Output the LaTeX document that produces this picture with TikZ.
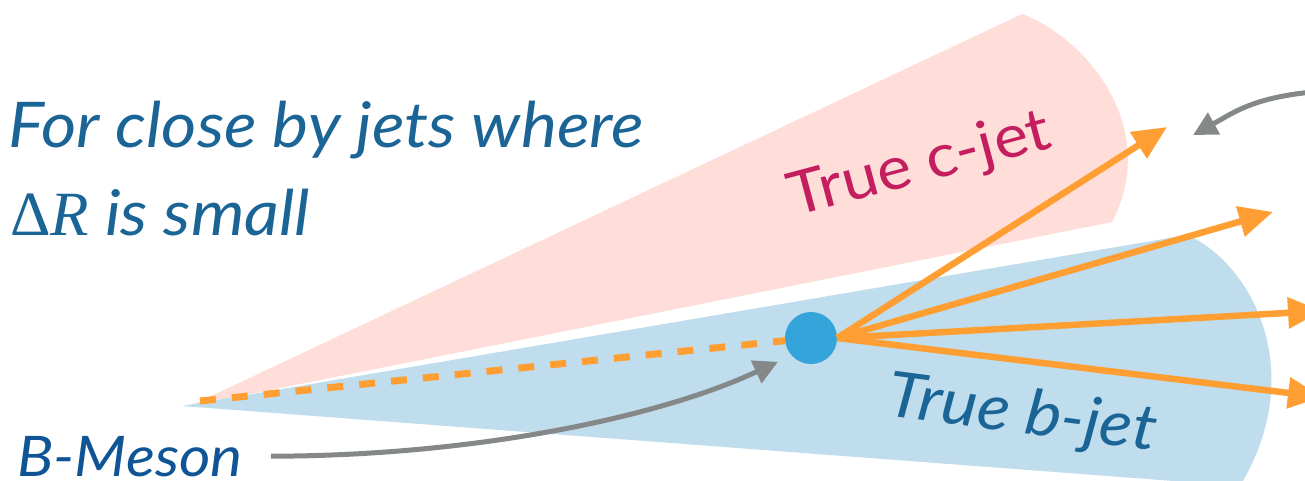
\documentclass[tikz,border=0pt]{standalone}
\usepackage{fontspec}
\setmainfont{Lato}
\newfontfamily\widefont[FakeStretch=1.08]{Lato}
\newfontfamily\mathserif{Liberation Serif}
\usetikzlibrary{arrows.meta}
\definecolor{pinkcone}{HTML}{FFDEDA}
\definecolor{bluecone}{HTML}{BFDDEC}
\definecolor{trackorange}{HTML}{FF9F33}
\definecolor{mesonblue}{HTML}{35A4DA}
\definecolor{gray}{HTML}{858888}
\definecolor{textblue}{HTML}{1B6596}
\definecolor{darkblue}{HTML}{0F5596}
\definecolor{cjetred}{HTML}{C41E5E}
\tikzset{
  every picture/.style={line join=round, >=Stealth},
  lead/.style={font=\widefont\fontsize{63}{74}\selectfont\itshape, text=textblue, inner sep=0pt},
  track/.style={trackorange, line width=6.5pt, -{Triangle[length=34pt,width=30pt]}},
  pointer/.style={gray, line width=5pt, -{Triangle[length=24pt,width=24pt]}},
}

\begin{document}
\begin{tikzpicture}[x=1pt,y=-1pt]
\useasboundingbox (0,0) rectangle (1305,480);
\fill[pinkcone] (190,406) -- (1022,14) .. controls (1090,40) and (1160,130) .. (1112,222) -- cycle;
\fill[bluecone] (182,406) -- (1187,235) .. controls (1250,262) and (1310,370) .. (1240,486) -- cycle;
\coordinate (apex) at (200,401);
\node[circle,fill=mesonblue,minimum size=52pt,inner sep=0pt] (meson) at (811,338) {};
\draw[trackorange,line width=7pt,dash pattern=on 16pt off 16pt] (apex) -- (meson);
\coordinate (tipA) at (1167,127); \coordinate (tipB) at (1273,212);
\coordinate (tipC) at (1322,311); \coordinate (tipD) at (1322,397);
\foreach \t in {tipA,tipB,tipC,tipD} \draw[track] (meson.east) -- (\t);
\node[lead,anchor=base west] (title) at (8,147) {For close by jets where};
\node[lead,anchor=base west] (cond) at (10,235) {{\upshape\mathserif Δ\itshape R} is small};
\node[font=\widefont\fontsize{60}{70}\selectfont, text=cjetred, rotate=15] (cjet) at (920,166) {True c-jet};
\node[lead, rotate=-7.5] (bjet) at (1022,416) {True b-jet};
\node[lead, font=\widefont\fontsize{56}{66}\selectfont\itshape, text=darkblue, anchor=base west] (lbl) at (17,476) {B-Meson};
\draw[pointer,shorten <=28pt,shorten >=15pt] (lbl.east) .. controls +(220,0) and +(-140,65) .. (meson.222);
\coordinate (greyin) at (1312,92); \coordinate (greyout) at (1193,135);
\draw[pointer] (greyin) .. controls +(-60,6) and +(40,-22) .. (greyout);
\end{tikzpicture}
\end{document}
